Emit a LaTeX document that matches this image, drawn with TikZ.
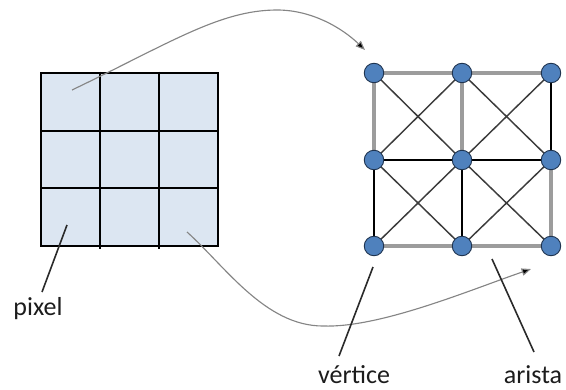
\documentclass[tikz,border=0pt]{standalone}
\usepackage{fontspec}
\setmainfont{Carlito}
\usetikzlibrary{arrows.meta,backgrounds}

\definecolor{cellfill}{HTML}{DCE6F2}
\definecolor{vertfill}{HTML}{4F81BD}
\definecolor{vertline}{HTML}{1F3450}
\definecolor{edgelight}{HTML}{9C9C9C}
\definecolor{edgediag}{HTML}{3C3C3C}
\definecolor{arrowgray}{HTML}{858585}
\definecolor{leader}{HTML}{2A2A2A}
\definecolor{labeltext}{HTML}{1C1C1C}

\tikzset{
  cell/.style={draw=black, fill=cellfill, line width=1.3pt, minimum width=59*0.75pt,
    minimum height=57.67*0.75pt, inner sep=0pt, outer sep=0pt},
  vert/.style={circle, draw=vertline, fill=vertfill, line width=0.7pt,
    minimum size=19.5*0.75pt, inner sep=0pt},
  lightedge/.style={draw=edgelight, line width=2.4pt},
  darkedge/.style={draw=black, line width=1.1pt},
  diagedge/.style={draw=edgediag, line width=1.1pt},
  maparrow/.style={draw=arrowgray, line width=0.85pt,
    -{Triangle[length=7pt, width=5.5pt, fill=black]}},
  leaderline/.style={draw=leader, line width=1.2pt},
  lbl/.style={text=labeltext, font=\fontsize{19.5}{22}\selectfont, inner sep=0pt, anchor=base}
}

\begin{document}
\begin{tikzpicture}[x=0.75pt, y=-0.75pt]
  \useasboundingbox (0,0) rectangle (566,389);

  % image: 3x3 pixels
  \foreach \r in {1,2,3} {
    \foreach \c in {1,2,3} {
      \node[cell] (p\r\c) at ({41+59*(\c-0.5)}, {73+57.67*(\r-0.5)}) {};
    }
  }
  % interior column lines run a little past the border
  \draw[black, line width=1.3pt] (p11.north east) ++(0,-1.5) -- ([yshift=-2.2pt]p31.south east);
  \draw[black, line width=1.3pt] (p12.north east) ++(0,-1.5) -- ([yshift=-2.2pt]p32.south east);

  % graph: one vertex per pixel
  \foreach \r/\y in {1/73, 2/160, 3/246} {
    \foreach \c/\x in {1/374, 2/462, 3/551} {
      \node[vert] (v\r\c) at (\x,\y) {};
    }
  }

  \begin{pgfonlayer}{background}
    % horizontal and vertical edges
    \draw[lightedge] (v11.center) -- (v12.center) -- (v13.center);
    \draw[darkedge]  (v21.center) -- (v22.center) -- (v23.center);
    \draw[lightedge] (v31.center) -- (v32.center) -- (v33.center);
    \draw[lightedge] (v11.center) -- (v21.center);
    \draw[darkedge]  (v21.center) -- (v31.center);
    \draw[lightedge] (v12.center) -- (v22.center);
    \draw[darkedge]  (v22.center) -- (v32.center);
    \draw[darkedge]  (v13.center) -- (v23.center);
    \draw[lightedge] (v23.center) -- (v33.center);
    % diagonal edges
    \draw[diagedge] (v11.center) -- (v22.center) -- (v33.center);
    \draw[diagedge] (v12.center) -- (v23.center);
    \draw[diagedge] (v21.center) -- (v32.center);
    \draw[diagedge] (v13.center) -- (v22.center) -- (v31.center);
    \draw[diagedge] (v12.center) -- (v21.center);
    \draw[diagedge] (v23.center) -- (v32.center);
  \end{pgfonlayer}

  % mapping arrows from pixels to vertices
  \coordinate (a1s) at (72,90);
  \coordinate (a1e) at (365,50);
  \coordinate (a2s) at (187,232);
  \coordinate (a2e) at (531,269);
  \draw[maparrow] (a1s) .. controls (170,43) and (220,10) .. (277,10)
                        .. controls (312,10) and (342,28) .. (a1e);
  \draw[maparrow] (a2s) .. controls (225,266) and (265,326) .. (323,326)
                        .. controls (380,328) and (470,290) .. (a2e);

  % labels with leader lines
  \node[lbl] (lpix) at (38,315) {pixel};
  \node[lbl] (lvert) at (354,383) {vértice};
  \node[lbl] (larist) at (533,383) {arista};
  \coordinate (lpixs) at (67,225);
  \coordinate (lpixe) at (42,292);
  \coordinate (lverts) at (373,267);
  \coordinate (lverte) at (339,356);
  \coordinate (larists) at (492,259);
  \coordinate (lariste) at (534,352);
  \draw[leaderline] (lpixs) -- (lpixe);
  \draw[leaderline] (lverts) -- (lverte);
  \draw[leaderline] (larists) -- (lariste);
\end{tikzpicture}
\end{document}
